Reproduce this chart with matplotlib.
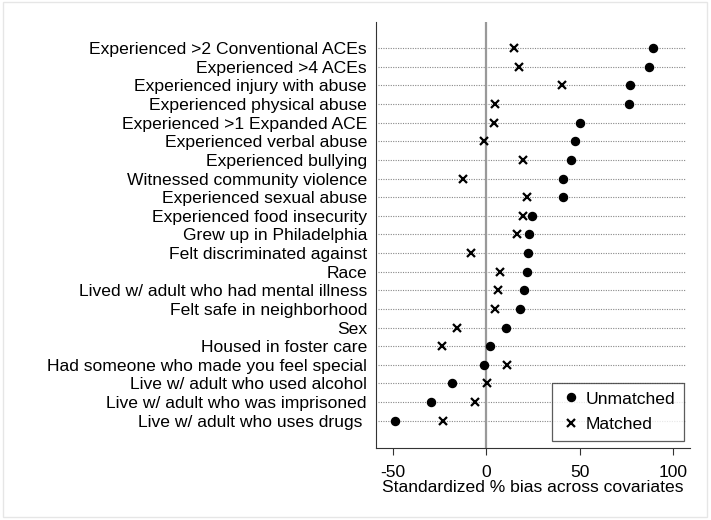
import matplotlib.pyplot as plt
from matplotlib.patches import Rectangle

plt.rcParams['font.family'] = ['Liberation Sans', 'DejaVu Sans']

covariates = [
    'Experienced >2 Conventional ACEs',
    'Experienced >4 ACEs',
    'Experienced injury with abuse',
    'Experienced physical abuse',
    'Experienced >1 Expanded ACE',
    'Experienced verbal abuse',
    'Experienced bullying',
    'Witnessed community violence',
    'Experienced sexual abuse',
    'Experienced food insecurity',
    'Grew up in Philadelphia',
    'Felt discriminated against',
    'Race',
    'Lived w/ adult who had mental illness',
    'Felt safe in neighborhood',
    'Sex',
    'Housed in foster care',
    'Had someone who made you feel special',
    'Live w/ adult who used alcohol',
    'Live w/ adult who was imprisoned',
    'Live w/ adult who uses drugs ',
]
unmatched = [89.1, 87.0, 77.1, 76.2, 50.3, 47.3, 45.4, 41.2, 40.9, 24.6, 23.0,
             22.5, 22.0, 20.2, 17.9, 10.4, 2.0, -1.2, -18.2, -29.6, -48.9]
matched = [15.0, 17.5, 40.5, 4.6, 4.3, -1.1, 19.5, -12.5, 21.8, 19.5, 16.4,
           -8.0, 7.1, 6.1, 4.6, -15.9, -23.9, 11.1, 0.2, -6.2, -23.4]
xticks = [-50, 0, 50, 100]

n = len(covariates)
ypos = [n - 1 - i for i in range(n)]
fs = 12.6

fig = plt.figure(figsize=(7.11, 5.20), dpi=100)
ax = fig.add_axes([376 / 711, 1 - 448 / 520, (690 - 376) / 711, (448 - 22) / 520])

x0, x1 = -59, 109
for y in ypos:
    ax.plot([x0 + 1, 106.6], [y, y], color='#888888', lw=0.8,
            linestyle=(0, (1, 1.2)), zorder=1)
ax.axvline(0, color='#999999', lw=1.6, zorder=1)

ax.plot(unmatched, ypos, 'o', color='black', markersize=5.8, linestyle='none',
        label='Unmatched', zorder=3)
ax.plot(matched, ypos, 'x', color='black', markersize=5.2, markeredgewidth=1.6,
        linestyle='none', label='Matched', zorder=3)

ax.set_xlim(x0, x1)
ax.set_ylim(-1.47, n - 1 + 1.41)
ax.set_yticks(ypos)
ax.set_yticklabels(covariates, fontsize=fs)
ax.tick_params(axis='y', length=0, pad=6.5)
ax.set_xticks(xticks)
ax.set_xticklabels([str(t) for t in xticks], fontsize=fs)
ax.tick_params(axis='x', length=5, width=0.8, color='#333333', pad=7)
ax.set_xlabel('Standardized % bias across covariates', fontsize=fs, labelpad=0.5)

ax.spines['top'].set_visible(False)
ax.spines['right'].set_visible(False)
ax.spines['left'].set_color('#333333')
ax.spines['bottom'].set_color('#333333')

leg = ax.legend(loc='lower right', bbox_to_anchor=((684 - 376) / 314, (448 - 441) / 426),
                fontsize=fs, frameon=True, fancybox=False, edgecolor='#333333',
                handletextpad=0.3, borderpad=0.5, labelspacing=0.6, handlelength=1.1,
                borderaxespad=0)
leg.get_frame().set_linewidth(0.9)

fig.patches.append(Rectangle((0.004, 0.006), 0.991, 0.99, transform=fig.transFigure,
                             fill=False, edgecolor='#e6e6e6', lw=1))

fig.savefig('out.png', dpi=100)
